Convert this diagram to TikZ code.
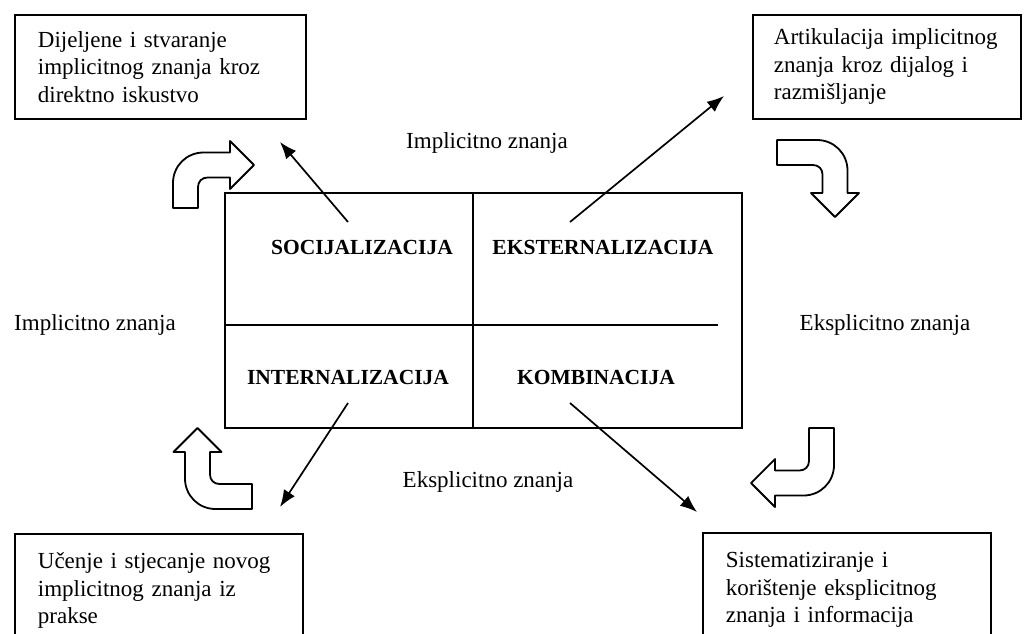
\documentclass[tikz,border=0pt]{standalone}
\usepackage{fontspec}
\setmainfont{Liberation Serif}
\usetikzlibrary{arrows.meta}
\usetikzlibrary{positioning}

\tikzset{
    infobox/.style={draw, line width=1.8pt, anchor=north west, align=left,
        inner xsep=23pt, minimum height=104pt, font=\fontsize{23}{27.5}\selectfont},
    quadrant/.style={font=\fontsize{21.5}{25}\selectfont\bfseries},
    flowlabel/.style={font=\fontsize{23}{27}\selectfont},
    pointer/.style={line width=1.7pt, -{Latex[length=17pt,width=13pt]}},
    bentarrowstyle/.style={draw, fill=white, line width=1.8pt, line join=round},
}

% bent block arrow: #1 bend centre, #2 rotation, #3 tail length, #4 shaft length
\newcommand{\bentarrow}[4]{%
    \begin{scope}[shift={#1}, rotate=#2]
        \draw[bentarrowstyle] (-12.5,#3) -- (-12.5,18)
            .. controls (-12.5,1) and (1,-12.5) .. (18,-12.5) -- (#4,-12.5) -- (#4,-24)
            -- ({#4+24},0) -- (#4,24) -- (#4,12.5) -- (22,12.5)
            .. controls (16.5,12.5) and (12.5,16.5) .. (12.5,22) -- (12.5,#3) -- cycle;
    \end{scope}}

\begin{document}
\begin{tikzpicture}[x=1pt,y=-1pt]
    \path[fill=white, use as bounding box] (0,0) rectangle (1030,633);

    % the four modes
    \draw[line width=2.8pt] (225,193) rectangle (742,428);
    \draw[line width=1.9pt] (473,193) -- (473,428);
    \draw[line width=1.9pt] (225,325) -- (718,325);

    \node[quadrant] (soc) at (362,247) {SOCIJALIZACIJA};
    \node[quadrant] (eks) at (603,247) {EKSTERNALIZACIJA};
    \node[quadrant] (int) at (348,377) {INTERNALIZACIJA};
    \node[quadrant] (kom) at (596,377) {KOMBINACIJA};

    % kinds of knowledge
    \node[flowlabel] (implTop) at (487,143) {Implicitno znanja};
    \node[flowlabel] (implLeft) at (95,325) {Implicitno znanja};
    \node[flowlabel] (ekspRight) at (885,325) {Eksplicitno znanja};
    \node[flowlabel] (ekspBottom) at (488,482) {Eksplicitno znanja};

    % corner descriptions
    \node[infobox, text width=245pt] (socBox) at (14,14)
        {Dijeljene i stvaranje\\implicitnog znanja kroz\\direktno iskustvo};
    \node[infobox, inner xsep=21pt, text width=226pt] (eksBox) at (752,14)
        {Artikulacija implicitnog\\znanja kroz dijalog i\\razmišljanje};
    \node[infobox, text width=242pt, minimum height=114pt] (intBox) at (14,533)
        {Učenje i stjecanje novog\\implicitnog znanja iz\\prakse};
    \node[infobox, text width=242pt, minimum height=114pt] (komBox) at (702,532)
        {Sistematiziranje i\\korištenje eksplicitnog\\znanja i informacija};

    % pointers from the modes
    \coordinate (socFrom) at (348,222);
    \coordinate (socTo) at (280,142);
    \coordinate (eksFrom) at (570,222);
    \coordinate (eksTo) at (724,96);
    \coordinate (intFrom) at (348,403);
    \coordinate (intTo) at (280,507);
    \coordinate (komFrom) at (570,403);
    \coordinate (komTo) at (697,512);
    \draw[pointer] (socFrom) -- (socTo);
    \draw[pointer] (eksFrom) -- (eksTo);
    \draw[pointer] (intFrom) -- (intTo);
    \draw[pointer] (komFrom) -- (komTo);

    % the spiral
    \bentarrow{(185.5,165)}{0}{43}{44.5}
    \bentarrow{(835,152.5)}{-90}{58}{40.5}
    \bentarrow{(197.5,496.5)}{90}{54.5}{44.5}
    \bentarrow{(821.5,483)}{180}{55}{46.5}
\end{tikzpicture}
\end{document}
